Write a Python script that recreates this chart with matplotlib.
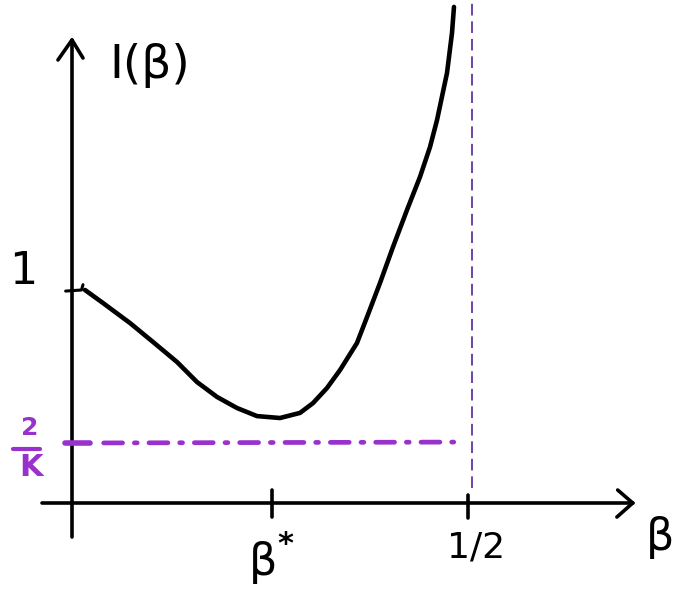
import matplotlib.pyplot as plt

# curve I(beta)
beta = [0.0164, 0.0391, 0.0732, 0.1023, 0.1326, 0.1578, 0.1831, 0.2083, 0.2336,
        0.2626, 0.2879, 0.3043, 0.3220, 0.3384, 0.3598, 0.3725, 0.3889, 0.4053,
        0.4230, 0.4394, 0.4520, 0.4609, 0.4735, 0.4798, 0.4823]
info = [1.000, 0.939, 0.845, 0.756, 0.662, 0.568, 0.498, 0.446, 0.408,
        0.399, 0.423, 0.469, 0.540, 0.624, 0.751, 0.873, 1.033, 1.202,
        1.376, 1.531, 1.671, 1.798, 2.019, 2.207, 2.329]

beta_star = 0.2525
beta_half = 0.5
two_over_k = 0.282

black = "#000000"
purple = "#9932cc"
purple_dark = "#6f42a8"

fig = plt.figure(figsize=(6.82, 6.0), dpi=100)
ax = fig.add_axes([0, 0, 1, 1])
ax.set_xlim(-0.0909, 0.7702)
ax.set_ylim(-0.4554, 2.3615)
ax.axis("off")

# axes with hand-drawn style arrows
ax.plot([0, 0], [-0.16, 2.174], color=black, lw=2.6, solid_capstyle="round")
ax.plot([-0.0177, 0, 0.0139], [2.080, 2.174, 2.089], color=black, lw=2.6,
        solid_capstyle="round", solid_joinstyle="round")
ax.plot([-0.038, 0.708], [0, 0], color=black, lw=2.6, solid_capstyle="round")
ax.plot([0.689, 0.708, 0.688], [0.061, 0, -0.066], color=black, lw=2.6,
        solid_capstyle="round", solid_joinstyle="round")

# ticks
ax.plot([beta_star, beta_star], [-0.066, 0.061], color=black, lw=2.6, solid_capstyle="round")
ax.plot([beta_half, beta_half], [-0.070, 0.038], color=black, lw=2.6, solid_capstyle="round")
ax.plot([-0.008, 0.012, 0.0139], [0.995, 1.0, 1.025], color=black, lw=2.2,
        solid_capstyle="round", solid_joinstyle="round")

# the curve
ax.plot(beta, info, color=black, lw=3.3, solid_capstyle="round", solid_joinstyle="round")

# vertical asymptote at 1/2
ax.plot([0.505, 0.505], [0.07, 2.40], color=purple_dark, lw=1.4, linestyle=(0, (6, 3)))

# lower bound 2/K
ax.plot([-0.009, 0.023], [two_over_k, two_over_k], color=purple, lw=4.0, solid_capstyle="round")
ax.plot([0.04, 0.482], [two_over_k, two_over_k + 0.004], color=purple, lw=3.4,
        linestyle=(0, (4, 2.5, 0.6, 2.5)), dash_capstyle="round")

# labels
ax.text(0.098, 2.056, "I(β)", fontsize=34, ha="center", va="center", color=black)
ax.text(-0.061, 1.085, "1", fontsize=32, ha="center", va="center", color=black)
ax.text(0.241, -0.277, "β", fontsize=32, ha="center", va="center", color=black)
ax.text(0.270, -0.197, "*", fontsize=22, ha="center", va="center", color=black,
        fontweight="bold")
ax.text(0.510, -0.211, "1/2", fontsize=26, ha="center", va="center", color=black)
ax.text(0.742, -0.164, "β", fontsize=32, ha="center", va="center", color=black)

ax.text(-0.054, 0.352, "2", fontsize=18, ha="center", va="center", color=purple,
        fontweight="bold")
ax.plot([-0.0745, -0.040], [0.254, 0.254], color=purple, lw=3.0, solid_capstyle="round")
ax.text(-0.052, 0.169, "K", fontsize=22, ha="center", va="center", color=purple,
        fontweight="bold")

fig.savefig("out.png", dpi=100)
